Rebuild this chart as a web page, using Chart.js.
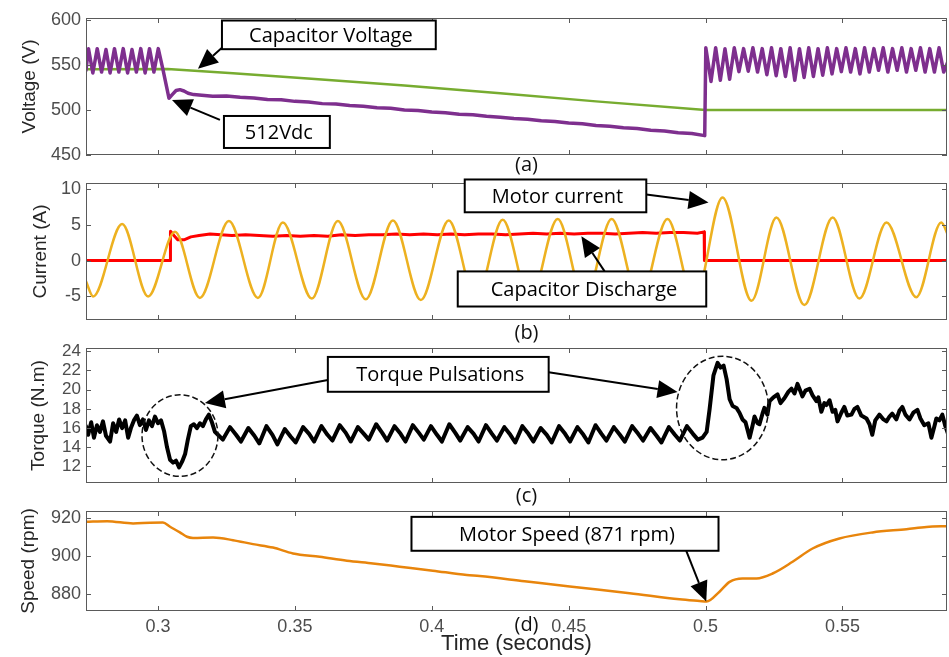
<!DOCTYPE html>
<html>
<head>
<meta charset="utf-8">
<script src="https://cdn.jsdelivr.net/npm/chart.js@4.4.1/dist/chart.umd.min.js"></script>
<style>
  body { margin: 0; background: #fff; width: 949px; height: 657px; overflow: hidden; position: relative; }
  canvas { position: absolute; left: 0; }
</style>
</head>
<body>
<canvas id="voltage" width="949" height="180" style="top:0px"></canvas>
<canvas id="current" width="949" height="180" style="top:170px"></canvas>
<canvas id="torque" width="949" height="170" style="top:340px"></canvas>
<canvas id="speed" width="949" height="157" style="top:500px"></canvas>
<script>
// shared time axis
const tMin = 0.2737, tMax = 0.5882;
const timeTicks = [0.3, 0.35, 0.4, 0.45, 0.5, 0.55];
const timeTickLabels = ['0.3', '0.35', '0.4', '0.45', '0.5', '0.55'];

// (a) DC link voltage (purple) and capacitor voltage (green)
const dcLinkTime = [0.2737, 0.2746, 0.2762, 0.2778, 0.2794, 0.2810, 0.2825, 0.2841, 0.2857, 0.2873, 0.2889, 0.2905, 0.2921, 0.2937, 0.2953, 0.2969, 0.2985, 0.3001,
  0.3018, 0.3040, 0.3052, 0.3066, 0.3080, 0.3095, 0.3110, 0.3130, 0.3160, 0.3200, 0.3250, 0.3300, 0.3350, 0.3400, 0.3450, 0.3500, 0.3550, 0.3600, 0.3650, 0.3700,
  0.3750, 0.3800, 0.3850, 0.3900, 0.3950, 0.4000, 0.4050, 0.4100, 0.4150, 0.4200, 0.4250, 0.4300, 0.4350, 0.4400, 0.4450, 0.4500, 0.4550, 0.4600, 0.4650, 0.4700,
  0.4750, 0.4800, 0.4850, 0.4900, 0.4950, 0.4997,
  0.5001, 0.5020, 0.5037, 0.5054, 0.5071, 0.5088, 0.5105, 0.5122, 0.5139, 0.5156, 0.5173, 0.5190, 0.5207, 0.5224, 0.5241, 0.5258, 0.5275, 0.5292,
  0.5309, 0.5326, 0.5343, 0.5360, 0.5377, 0.5394, 0.5411, 0.5428, 0.5445, 0.5462, 0.5479, 0.5496, 0.5513, 0.5530, 0.5547, 0.5564, 0.5581, 0.5598,
  0.5615, 0.5632, 0.5649, 0.5666, 0.5683, 0.5700, 0.5717, 0.5734, 0.5751, 0.5768, 0.5785, 0.5802, 0.5819, 0.5836, 0.5853, 0.5870, 0.5887];
const dcLinkVolts = [544, 568, 541, 568, 542, 567, 541, 568, 542, 568, 541, 567, 542, 568, 541, 568, 542, 568,
  545, 513, 517, 521.5, 522.5, 521, 518.5, 517, 516.3, 515.2, 515.5, 514, 513.2, 511.5, 511.3, 509.5, 508.8, 507, 506.6, 505,
  504, 502.5, 501.8, 500, 499.4, 497.6, 496.9, 495.3, 494.6, 493, 492, 490.5, 489.7, 488, 487.2, 485.5, 484.6, 482.7, 482, 480.2,
  479.3, 477.4, 476.6, 474.6, 473.8, 471.5,
  569, 531.5, 569, 533, 568, 534, 569, 542.5, 568, 543, 569, 542, 568, 539, 569, 538, 568, 537,
  569, 533, 568, 536, 569, 537, 568, 538.5, 569, 540, 568, 542.5, 569, 542, 568, 540, 569, 542,
  568, 544, 569, 542, 568, 544, 569, 542, 568, 544, 569, 542, 568, 542, 569, 542, 555];
const capTime = [0.2737, 0.3035, 0.3274, 0.356, 0.39, 0.425, 0.46, 0.5, 0.5887];
const capVolts = [545, 545.5, 540.7, 534.5, 527, 518.5, 509.5, 500, 500];
const voltTicks = [450, 500, 550, 600];

// (b) motor current (yellow) and capacitor discharge current (red)
const motorTime = [0.2737, 0.2763, 0.2869, 0.2964, 0.3062, 0.3153, 0.3259, 0.3365, 0.3456, 0.3562, 0.3657, 0.3759, 0.3858, 0.3960, 0.4062, 0.4161, 0.4259,
  0.4358, 0.4460, 0.4558, 0.4657, 0.4759, 0.4861, 0.4960, 0.5062, 0.5168, 0.5259, 0.5361, 0.5464, 0.5562, 0.5661, 0.5770, 0.5861, 0.5887];
const motorAmps = [-2.9, -5.0, 5.1, -5.0, 4.0, -5.2, 5.5, -5.2, 5.3, -5.3, 5.5, -5.4, 5.6, -5.5, 5.6, -5.5, 5.7,
  -5.6, 5.8, -5.6, 5.8, -5.6, 5.8, -5.6, 8.8, -5.6, 6.0, -6.2, 6.0, -5.3, 5.3, -5.1, 5.3, 3.4];
const dischargeTime = [0.2737, 0.3045, 0.30455, 0.3058, 0.3072, 0.3095, 0.312, 0.315, 0.319, 0.323, 0.327, 0.332, 0.337, 0.342, 0.347, 0.352, 0.357, 0.362,
  0.367, 0.372, 0.377, 0.382, 0.387, 0.392, 0.397, 0.402, 0.407, 0.412, 0.417, 0.422, 0.427, 0.432, 0.437, 0.442, 0.447, 0.452, 0.457, 0.462,
  0.467, 0.472, 0.477, 0.482, 0.487, 0.492, 0.497, 0.4995, 0.4996, 0.5887];
const dischargeAmps = [0, 0, 4.1, 3.5, 2.9, 2.9, 3.3, 3.5, 3.7, 3.6, 3.5, 3.6, 3.5, 3.4, 3.5, 3.4, 3.5, 3.4,
  3.6, 3.5, 3.6, 3.6, 3.7, 3.6, 3.7, 3.6, 3.7, 3.6, 3.7, 3.7, 3.6, 3.7, 3.8, 3.7, 3.8, 3.7, 3.8, 3.8,
  3.7, 3.8, 3.9, 3.8, 3.9, 3.9, 3.8, 4.0, 0, 0];
const currentTicks = [-5, 0, 5, 10];

// (c) electromagnetic torque
const torqueTime = [0.2737, 0.2745, 0.2756, 0.2766, 0.2777, 0.2788, 0.2799, 0.2810, 0.2825, 0.2836, 0.2847, 0.2858, 0.2869, 0.2880, 0.2891,
  0.2901, 0.2912, 0.2923, 0.2934, 0.2945, 0.2956, 0.2967, 0.2978, 0.2989, 0.3000, 0.3011, 0.3022, 0.3033, 0.3044, 0.3055,
  0.3066, 0.3077, 0.3088, 0.3099, 0.3109, 0.3120, 0.3131, 0.3142, 0.3153, 0.3164, 0.3175, 0.3186, 0.3197, 0.3208, 0.3219, 0.3237,
  0.3263, 0.3285, 0.3303, 0.3330, 0.3352, 0.3370, 0.3396, 0.3418, 0.3436, 0.3463, 0.3485, 0.3503, 0.3530, 0.3552, 0.3570,
  0.3597, 0.3619, 0.3637, 0.3664, 0.3686, 0.3704, 0.3730, 0.3752, 0.3770, 0.3797, 0.3819, 0.3837, 0.3864, 0.3886, 0.3904,
  0.3931, 0.3953, 0.3971, 0.3997, 0.4019, 0.4037, 0.4064, 0.4086, 0.4104, 0.4131, 0.4153, 0.4171, 0.4198, 0.4220, 0.4238,
  0.4265, 0.4287, 0.4305, 0.4331, 0.4353, 0.4371, 0.4398, 0.4420, 0.4438, 0.4465, 0.4487, 0.4505, 0.4532, 0.4554, 0.4572,
  0.4598, 0.4620, 0.4638, 0.4665, 0.4687, 0.4705, 0.4732, 0.4754, 0.4772, 0.4799, 0.4821, 0.4839, 0.4866, 0.4888, 0.4906,
  0.4932, 0.4954, 0.4972,
  0.4989, 0.5004, 0.5015, 0.5029, 0.5044, 0.5055, 0.5066, 0.5077, 0.5088, 0.5099, 0.5113, 0.5124, 0.5135, 0.5146, 0.5161,
  0.5172, 0.5179, 0.5190, 0.5197, 0.5208, 0.5215, 0.5226, 0.5234, 0.5248, 0.5263, 0.5274, 0.5288, 0.5303, 0.5314, 0.5325,
  0.5336, 0.5347, 0.5354, 0.5365, 0.5380, 0.5391, 0.5405, 0.5412, 0.5423, 0.5434, 0.5442, 0.5453, 0.5464, 0.5474, 0.5482,
  0.5496, 0.5507, 0.5518, 0.5533, 0.5544, 0.5555, 0.5569, 0.5588, 0.5599, 0.5609, 0.5620, 0.5635, 0.5650, 0.5661, 0.5672,
  0.5682, 0.5697, 0.5708, 0.5719, 0.5730, 0.5745, 0.5759, 0.5774, 0.5785, 0.5799, 0.5814, 0.5825, 0.5836, 0.5843, 0.5854,
  0.5865, 0.5876, 0.5887];
const torqueNm = [16.2, 15.3, 16.6, 15.0, 16.3, 15.6, 16.7, 15.2, 14.6, 16.5, 15.6, 16.9, 16.0, 16.8, 15.0,
  16.0, 16.8, 17.3, 16.3, 16.9, 15.8, 16.8, 16.2, 17.2, 16.5, 16.8, 15.7, 14.0, 12.7, 12.4,
  12.6, 11.9, 12.5, 13.3, 14.8, 16.2, 16.4, 16.0, 16.5, 16.2, 16.9, 17.4, 16.6, 15.6, 15.3, 14.8,
  16.1, 15.3, 14.6, 16.0, 15.2, 14.4, 16.2, 15.3, 14.3, 15.9, 15.1, 14.5, 16.1, 15.4, 14.6,
  16.2, 15.3, 14.7, 16.3, 15.5, 14.6, 16.1, 15.4, 14.8, 16.4, 15.5, 14.7, 16.2, 15.4, 14.6,
  16.3, 15.5, 14.8, 16.2, 15.3, 14.6, 16.4, 15.5, 14.7, 16.1, 15.4, 14.6, 16.3, 15.4, 14.7,
  16.1, 15.3, 14.5, 16.2, 15.4, 14.6, 16.0, 15.3, 14.5, 16.2, 15.4, 14.6, 16.1, 15.3, 14.5,
  16.3, 15.4, 14.7, 16.1, 15.3, 14.6, 16.2, 15.4, 14.7, 16.0, 15.2, 14.5, 16.1, 15.3, 14.7,
  16.2, 15.4, 14.8,
  15.0, 15.6, 18.0, 21.5, 22.8, 22.3, 22.5, 21.1, 19.0, 18.3, 18.1, 17.6, 16.9, 16.6, 15.0,
  16.3, 17.2, 16.5, 16.4, 17.5, 18.1, 17.4, 18.8, 19.2, 19.5, 18.6, 19.1, 19.8, 20.1, 19.6,
  20.6, 19.8, 19.3, 19.9, 20.1, 19.4, 18.8, 19.2, 17.7, 18.6, 18.4, 18.9, 17.7, 17.9, 16.7,
  17.6, 18.2, 17.3, 17.4, 18.0, 18.2, 17.3, 17.0, 16.4, 15.3, 16.8, 17.4, 16.9, 16.7, 17.2,
  17.5, 16.9, 17.8, 18.2, 17.4, 16.9, 17.6, 17.9, 17.0, 16.3, 16.5, 15.0, 16.2, 17.0, 16.8,
  17.4, 16.2, 15.3];
const torqueTicks = [12, 14, 16, 18, 20, 22, 24];

// (d) rotor speed
const speedTime = [0.2737, 0.2814, 0.2909, 0.2971, 0.3018, 0.3044, 0.3080, 0.3106, 0.3128, 0.3201, 0.3274, 0.3347, 0.3420, 0.3493, 0.3591,
  0.3690, 0.3785, 0.3883, 0.4004, 0.4128, 0.4175, 0.4339, 0.4504, 0.4723, 0.4905, 0.4978, 0.5004, 0.5051, 0.5088, 0.5135,
  0.5186, 0.5245, 0.5318, 0.5391, 0.5489, 0.5610, 0.5734, 0.5807, 0.5887];
const speedRpm = [918.1, 918.4, 917.2, 917.6, 917.7, 915.5, 912.5, 910.2, 909.6, 909.8, 908.4, 906.3, 904.5, 901.4, 899.6,
  897.5, 896.1, 894.4, 892.3, 890.0, 889.5, 886.7, 883.9, 880.4, 877.2, 876.3, 876.0, 881.2, 886.4, 888.2,
  888.2, 890.8, 897.0, 904.0, 909.3, 912.5, 914.2, 915.4, 915.8];
const speedTicks = [880, 900, 920];

const tickGrey = '#4d4d4d';
const titleInk = '#262626';
const frameGrey = '#5a5a5a';
const noteFont = '20px "Open Sans"';

Chart.defaults.font.family = '"Liberation Sans", Arial, sans-serif';

function points(xs, ys) {
  return xs.map((x, i) => ({ x: x, y: ys[i] }));
}

function drawArrow(ctx, x0, y0, x1, y1) {
  const ang = Math.atan2(y1 - y0, x1 - x0);
  const len = 20, half = 9;
  const bx = x1 - len * Math.cos(ang), by = y1 - len * Math.sin(ang);
  ctx.lineWidth = 2;
  ctx.beginPath();
  ctx.moveTo(x0, y0);
  ctx.lineTo(bx, by);
  ctx.stroke();
  ctx.beginPath();
  ctx.moveTo(x1, y1);
  ctx.lineTo(bx + half * Math.sin(ang), by - half * Math.cos(ang));
  ctx.lineTo(bx - half * Math.sin(ang), by + half * Math.cos(ang));
  ctx.closePath();
  ctx.fill();
}

// frame, inward ticks, call-outs and the panel letter
function panelPlugin(cfg) {
  return {
    id: 'panel' + cfg.letter,
    afterDatasetsDraw(chart) {
      const { ctx, chartArea: a, scales: { x, y } } = chart;
      ctx.save();
      ctx.strokeStyle = frameGrey;
      ctx.lineWidth = 1;
      ctx.strokeRect(a.left + 0.5, a.top + 0.5, a.right - a.left - 1, a.bottom - a.top - 1);
      ctx.beginPath();
      timeTicks.forEach(v => {
        const px = Math.round(x.getPixelForValue(v)) + 0.5;
        ctx.moveTo(px, a.top); ctx.lineTo(px, a.top + 5);
        ctx.moveTo(px, a.bottom); ctx.lineTo(px, a.bottom - 5);
      });
      cfg.yTicks.forEach(v => {
        const py = Math.round(y.getPixelForValue(v)) + 0.5;
        ctx.moveTo(a.left, py); ctx.lineTo(a.left + 5, py);
        ctx.moveTo(a.right, py); ctx.lineTo(a.right - 5, py);
      });
      ctx.stroke();
      ctx.restore();
    },
    afterDraw(chart) {
      const { ctx, chartArea: a, scales: { x, y } } = chart;
      ctx.save();
      (cfg.rings || []).forEach(r => {
        const cx = x.getPixelForValue(r[0]), cy = y.getPixelForValue(r[1]);
        const rx = Math.abs(x.getPixelForValue(r[0] + r[2]) - cx);
        const ry = Math.abs(y.getPixelForValue(r[1] + r[3]) - cy);
        ctx.setLineDash([6, 3]);
        ctx.lineWidth = 1.5;
        ctx.strokeStyle = '#111';
        ctx.beginPath();
        ctx.ellipse(cx, cy, rx, ry, 0, 0, Math.PI * 2);
        ctx.stroke();
      });
      ctx.setLineDash([]);
      (cfg.notes || []).forEach(n => {
        ctx.strokeStyle = '#000';
        ctx.fillStyle = '#000';
        n.arrows.forEach(ar => {
          drawArrow(ctx, x.getPixelForValue(ar[0]), y.getPixelForValue(ar[1]),
            x.getPixelForValue(ar[2]), y.getPixelForValue(ar[3]));
        });
        const x0 = x.getPixelForValue(n.box[0]), y0 = y.getPixelForValue(n.box[1]);
        const x1 = x.getPixelForValue(n.box[2]), y1 = y.getPixelForValue(n.box[3]);
        ctx.fillStyle = '#fff';
        ctx.fillRect(x0, y0, x1 - x0, y1 - y0);
        ctx.lineWidth = 2;
        ctx.strokeRect(x0, y0, x1 - x0, y1 - y0);
        ctx.fillStyle = '#000';
        ctx.font = noteFont;
        ctx.textAlign = 'center';
        ctx.textBaseline = 'middle';
        ctx.fillText(n.text, (x0 + x1) / 2 + 2, (y0 + y1) / 2 + 1);
      });
      ctx.fillStyle = '#111';
      ctx.font = noteFont;
      ctx.textAlign = 'center';
      ctx.textBaseline = 'middle';
      ctx.fillText(cfg.letter, (a.left + a.right) / 2 + 10, a.bottom + cfg.letterGap);
      ctx.restore();
    }
  };
}

function makePanel(id, cfg) {
  return new Chart(document.getElementById(id), {
    type: 'line',
    data: { datasets: cfg.datasets },
    options: {
      responsive: false,
      animation: false,
      events: [],
      layout: { padding: cfg.padding },
      elements: { point: { radius: 0 }, line: { borderJoinStyle: 'round', borderCapStyle: 'round' } },
      plugins: { legend: { display: false }, tooltip: { enabled: false } },
      scales: {
        x: {
          type: 'linear', min: tMin, max: tMax,
          grid: { display: false, drawTicks: false }, border: { display: false },
          afterBuildTicks: s => { s.ticks = timeTicks.map(v => ({ value: v })); },
          afterFit: s => { s.height = cfg.xHeight; s.paddingLeft = 0; s.paddingRight = 0; },
          ticks: { display: !!cfg.showTime, autoSkip: false, maxRotation: 0, padding: 5, color: tickGrey, font: { size: 18 },
            callback: (v, i) => timeTickLabels[i] },
          title: { display: !!cfg.showTime, text: 'Time (seconds)', color: titleInk, font: { size: 22 },
            padding: { top: 0, bottom: 0 } }
        },
        y: {
          type: 'linear', min: cfg.yMin, max: cfg.yMax,
          grid: { display: false, drawTicks: false }, border: { display: false },
          afterBuildTicks: s => { s.ticks = cfg.yTicks.map(v => ({ value: v })); },
          afterFit: s => { s.width = 86; s.paddingTop = 0; s.paddingBottom = 0; },
          ticks: { autoSkip: false, padding: 5, color: tickGrey, font: { size: cfg.tickSize || 18 } },
          title: { display: true, text: cfg.yTitle, color: titleInk, font: { size: 19 },
            padding: { top: cfg.titleGap, bottom: 0 } }
        }
      }
    },
    plugins: [panelPlugin(cfg)]
  });
}

makePanel('voltage', {
  letter: '(a)', letterGap: 10,
  padding: { top: 18, bottom: 25, left: 0, right: 2 }, xHeight: 0,
  yMin: 450, yMax: 602, yTicks: voltTicks, yTitle: 'Voltage (V)', titleGap: 18,
  datasets: [
    { data: points(dcLinkTime, dcLinkVolts), borderColor: '#7e2f8e', borderWidth: 3.5 },
    { data: points(capTime, capVolts), borderColor: '#77ac30', borderWidth: 2.5 }
  ],
  notes: [
    { text: 'Capacitor Voltage', box: [0.32336, 599.2, 0.40146, 567.4], arrows: [[0.32336, 568.9, 0.3146, 545.6]] },
    { text: '512Vdc', box: [0.32409, 493.3, 0.36277, 457.8], arrows: [[0.32263, 488.9, 0.30511, 511.1]] }
  ]
});

makePanel('current', {
  letter: '(b)', letterGap: 13,
  padding: { top: 13, bottom: 30, left: 0, right: 2 }, xHeight: 0,
  yMin: -8.28, yMax: 10.81, yTicks: currentTicks, yTitle: 'Current (A)', titleGap: 29,
  datasets: [
    { data: points(motorTime, motorAmps), borderColor: '#edb120', borderWidth: 2.5, cubicInterpolationMode: 'monotone' },
    { data: points(dischargeTime, dischargeAmps), borderColor: '#ff0000', borderWidth: 3 }
  ],
  notes: [
    { text: 'Motor current', box: [0.41204, 11.3, 0.47836, 6.73], arrows: [[0.47836, 9.2, 0.50109, 8.09]] },
    { text: 'Capacitor Discharge', box: [0.40949, -1.51, 0.50026, -6.4], arrows: [[0.46314, -1.51, 0.45464, 3.38]] }
  ]
});

makePanel('torque', {
  letter: '(c)', letterGap: 13,
  padding: { top: 8, bottom: 27, left: 0, right: 2 }, xHeight: 0, tickSize: 17,
  yMin: 10.28, yMax: 24.34, yTicks: torqueTicks, yTitle: 'Torque (N.m)', titleGap: 27,
  datasets: [
    { data: points(torqueTime, torqueNm), borderColor: '#000000', borderWidth: 4 }
  ],
  rings: [[0.30803, 15.22, 0.01387, 4.25], [0.5062, 18.09, 0.01679, 5.39]],
  notes: [
    { text: 'Torque Pulsations', box: [0.36204, 23.41, 0.4427, 19.78],
      arrows: [[0.36204, 21.0, 0.31715, 18.61], [0.4427, 21.82, 0.48978, 19.75]] }
  ]
});

makePanel('speed', {
  letter: '(d)', letterGap: 14,
  padding: { top: 11, bottom: 0, left: 0, right: 2 }, xHeight: 46, showTime: true,
  yMin: 871, yMax: 923.8, yTicks: speedTicks, yTitle: 'Speed (rpm)', titleGap: 17,
  datasets: [
    { data: points(speedTime, speedRpm), borderColor: '#e8850c', borderWidth: 2.5, cubicInterpolationMode: 'monotone' }
  ],
  notes: [
    { text: 'Motor Speed (871 rpm)', box: [0.39259, 920.7, 0.50474, 902.8], arrows: [[0.49296, 902.8, 0.50026, 876.0]] }
  ]
});
</script>
</body>
</html>
